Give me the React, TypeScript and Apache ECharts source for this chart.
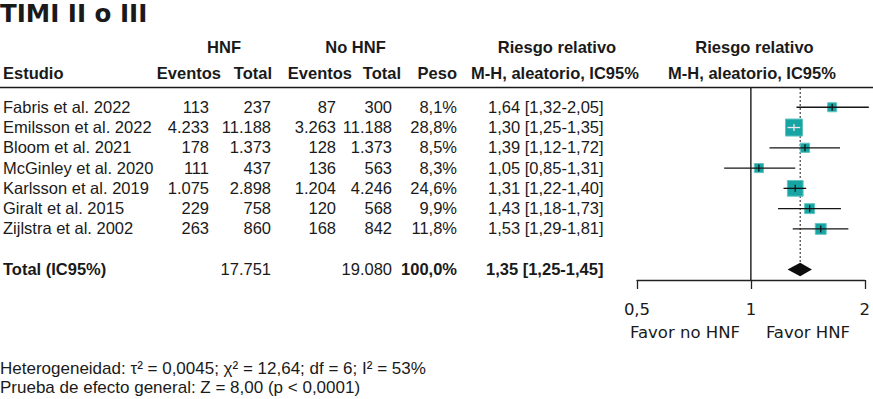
import React, { useEffect, useRef } from "react";
import * as echarts from "echarts";

const studies = [
  "Fabris et al. 2022",
  "Emilsson et al. 2022",
  "Bloom et al. 2021",
  "McGinley et al. 2020",
  "Karlsson et al. 2019",
  "Giralt et al. 2015",
  "Zijlstra et al. 2002",
];
const hnfEvents = [113, 4233, 178, 111, 1075, 229, 263];
const hnfTotal = [237, 11188, 1373, 437, 2898, 758, 860];
const noHnfEvents = [87, 3263, 128, 136, 1204, 120, 168];
const noHnfTotal = [300, 11188, 1373, 563, 4246, 568, 842];
const weights = [8.1, 28.8, 8.5, 8.3, 24.6, 9.9, 11.8];
const rr = [1.64, 1.3, 1.39, 1.05, 1.31, 1.43, 1.53];
const rrLow = [1.32, 1.25, 1.12, 0.85, 1.22, 1.18, 1.29];
const rrHigh = [2.05, 1.35, 1.72, 1.31, 1.4, 1.73, 1.81];

const totalLabel = "Total (IC95%)";
const totalHnf = 17751;
const totalNoHnf = 19080;
const totalWeight = 100.0;
const pooledRR = 1.35;
const pooledLow = 1.25;
const pooledHigh = 1.45;

const xTicks = [0.5, 1, 2];
const title = "TIMI II o III";
const heterogeneity = "Heterogeneidad: τ² = 0,0045; χ² = 12,64; df = 6; I² = 53%";
const overallEffect = "Prueba de efecto general: Z = 8,00 (p < 0,0001)";
const favorLeft = "Favor no HNF";
const favorRight = "Favor HNF";

const fmtInt = (n: number) => String(n).replace(/\B(?=(\d{3})+(?!\d))/g, ".");
const fmtDec = (v: number, d: number) => v.toFixed(d).replace(".", ",");
const fmtCI = (m: number, l: number, h: number) =>
  `${fmtDec(m, 2)} [${fmtDec(l, 2)}-${fmtDec(h, 2)}]`;

const SANS = '"Liberation Sans", Arial, sans-serif';
const DJ = '"DejaVu Sans", sans-serif';
const TXT = "#1a1a1a";
const FS = 16.5;

const TOTAL_ROW = 8;
const Y_MIN = -0.95;
const Y_MAX = 8.52;

export default function App() {
  const ref = useRef<HTMLDivElement>(null);
  useEffect(() => {
    if (!ref.current) return;
    const chart = echarts.init(ref.current, undefined, { renderer: "svg" });

    const tableData = studies.map((_, i) => [0, i]);
    tableData.push([0, TOTAL_ROW]);

    const txt = (
      x: number,
      y: number,
      text: string,
      align: string,
      bold = false,
      font = SANS,
      size = FS
    ) => ({
      type: "text",
      x,
      y,
      style: {
        text,
        fill: TXT,
        font: `${bold ? "bold " : ""}${size}px ${font}`,
        align,
        verticalAlign: "middle",
        textAlign: align,
        textVerticalAlign: "middle",
      },
    });

    const option: any = {
      animation: false,
      grid: [
        { left: 637, right: 5, top: 88, bottom: 119, containLabel: false },
        { left: 0, right: 0, top: 88, bottom: 119, containLabel: false },
      ],
      xAxis: [
        {
          type: "log",
          logBase: 2,
          gridIndex: 0,
          position: "bottom",
          min: xTicks[0],
          max: xTicks[xTicks.length - 1],
          axisLine: { show: true, onZero: false, lineStyle: { color: "#222", width: 1.3 } },
          axisTick: { show: true, inside: false, length: 9, lineStyle: { color: "#222", width: 1.3 } },
          splitLine: { show: false },
          axisLabel: {
            formatter: (v: number) => String(v).replace(".", ","),
            fontFamily: DJ,
            fontSize: FS,
            color: TXT,
            margin: 21,
          },
        },
        { type: "value", gridIndex: 1, min: 0, max: 873, show: false },
      ],
      yAxis: [
        { type: "value", gridIndex: 0, inverse: true, min: Y_MIN, max: Y_MAX, show: false },
        { type: "value", gridIndex: 1, inverse: true, min: Y_MIN, max: Y_MAX, show: false },
      ],
      series: [
        {
          type: "custom",
          xAxisIndex: 1,
          yAxisIndex: 1,
          clip: false,
          data: tableData,
          renderItem: (params: any, api: any) => {
            const row = api.value(1);
            const y = api.coord([0, row])[1] - 0.5;
            const i = params.dataIndex;
            if (row === TOTAL_ROW) {
              return {
                type: "group",
                children: [
                  txt(3, y, totalLabel, "left", true),
                  txt(271, y, fmtInt(totalHnf), "right"),
                  txt(392, y, fmtInt(totalNoHnf), "right"),
                  txt(457, y, fmtDec(totalWeight, 1) + "%", "right", true),
                  txt(486, y, fmtCI(pooledRR, pooledLow, pooledHigh), "left", true),
                ],
              };
            }
            return {
              type: "group",
              children: [
                txt(3, y, studies[i], "left"),
                txt(209, y, fmtInt(hnfEvents[i]), "right"),
                txt(271, y, fmtInt(hnfTotal[i]), "right"),
                txt(336, y, fmtInt(noHnfEvents[i]), "right"),
                txt(392, y, fmtInt(noHnfTotal[i]), "right"),
                txt(457, y, fmtDec(weights[i], 1) + "%", "right"),
                txt(488, y, fmtCI(rr[i], rrLow[i], rrHigh[i]), "left"),
              ],
            };
          },
        },
        {
          type: "custom",
          xAxisIndex: 0,
          yAxisIndex: 0,
          clip: false,
          data: [[pooledRR, TOTAL_ROW, pooledLow, pooledHigh]],
          encode: { x: [0, 2, 3], y: 1 },
          renderItem: (params: any, api: any) => {
            const c = api.coord([api.value(0), api.value(1)]);
            const l = api.coord([api.value(2), api.value(1)]);
            const h = api.coord([api.value(3), api.value(1)]);
            const top = api.coord([1, Y_MIN]);
            const bottom = api.coord([1, Y_MAX]);
            const dh = 6.7;
            return {
              type: "group",
              children: [
                {
                  type: "line",
                  shape: { x1: top[0], y1: top[1], x2: bottom[0], y2: bottom[1] },
                  style: { stroke: "#1a1a1a", lineWidth: 1.4 },
                },
                {
                  type: "line",
                  shape: { x1: c[0], y1: top[1], x2: c[0], y2: c[1] - dh },
                  style: { stroke: "#1a1a1a", lineWidth: 1, lineDash: [2, 2] },
                },
                {
                  type: "polygon",
                  shape: {
                    points: [
                      [l[0], c[1]],
                      [c[0], c[1] - dh],
                      [h[0], c[1]],
                      [c[0], c[1] + dh],
                    ],
                  },
                  style: { fill: "#0d0d0d" },
                },
              ],
            };
          },
        },
        {
          type: "custom",
          xAxisIndex: 0,
          yAxisIndex: 0,
          clip: false,
          data: studies.map((_, i) => [rr[i], i, rrLow[i], rrHigh[i], weights[i]]),
          encode: { x: [0, 2, 3], y: 1 },
          renderItem: (params: any, api: any) => {
            const row = api.value(1);
            const c = api.coord([api.value(0), row]);
            const l = api.coord([api.value(2), row]);
            const h = api.coord([api.value(3), row]);
            const s = 3.17 * Math.sqrt(api.value(4));
            const inside = l[0] >= c[0] - s / 2 && h[0] <= c[0] + s / 2;
            const lc = inside ? "#f3e4f0" : "#141414";
            return {
              type: "group",
              children: [
                {
                  type: "rect",
                  shape: { x: c[0] - s / 2, y: c[1] - s / 2, width: s, height: s },
                  style: { fill: "#17a5a4", stroke: "#62c4c2", lineWidth: 1 },
                },
                {
                  type: "line",
                  shape: { x1: l[0], y1: c[1], x2: h[0], y2: c[1] },
                  style: { stroke: lc, lineWidth: 1.3 },
                },
                {
                  type: "line",
                  shape: { x1: c[0], y1: c[1] - 3.5, x2: c[0], y2: c[1] + 3.5 },
                  style: { stroke: lc, lineWidth: 1.3 },
                },
              ],
            };
          },
        },
      ],
      graphic: [
        txt(0, 13, title, "left", true, DJ, 24.5),
        txt(224, 47, "HNF", "center", true),
        txt(355.5, 47, "No HNF", "center", true),
        txt(557, 47, "Riesgo relativo", "center", true),
        txt(754.5, 47, "Riesgo relativo", "center", true),
        txt(3, 72.5, "Estudio", "left", true),
        txt(221, 72.5, "Eventos", "right", true),
        txt(272, 72.5, "Total", "right", true),
        txt(352, 72.5, "Eventos", "right", true),
        txt(401, 72.5, "Total", "right", true),
        txt(457, 72.5, "Peso", "right", true),
        txt(555, 72.5, "M-H, aleatorio, IC95%", "center", true),
        txt(752, 72.5, "M-H, aleatorio, IC95%", "center", true),
        {
          type: "line",
          shape: { x1: 0, y1: 87.5, x2: 873, y2: 87.5 },
          style: { stroke: "#1a1a1a", lineWidth: 1.6 },
        },
        txt(685, 332, favorLeft, "center", false, DJ, FS),
        txt(808, 332, favorRight, "center", false, DJ, FS),
        txt(0, 368.5, heterogeneity, "left", false, SANS, 17),
        txt(0, 387.5, overallEffect, "left", false, SANS, 17),
      ],
    };
    chart.setOption(option);
    return () => chart.dispose();
  }, []);
  return (
    <div
      ref={ref}
      style={{ position: "absolute", left: 0, top: 0, width: 873, height: 399 }}
    />
  );
}
